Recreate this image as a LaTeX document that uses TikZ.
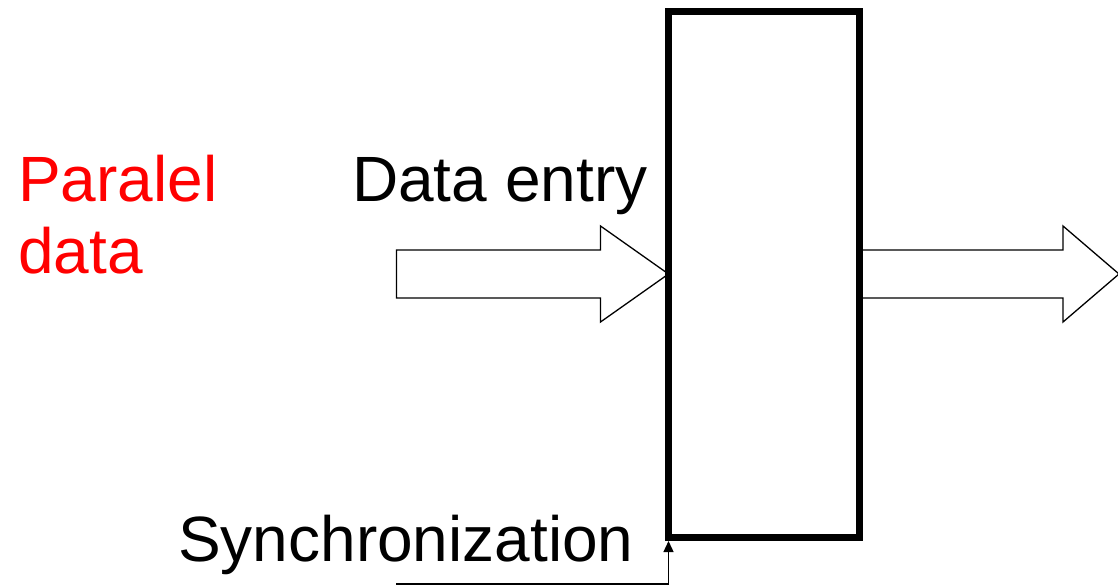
\documentclass[tikz,border=0pt]{standalone}
\usepackage{fontspec}
\setmainfont{Liberation Sans}
\usepackage{xcolor}
\usetikzlibrary{arrows.meta, positioning, calc}
\definecolor{labred}{RGB}{255,0,0}

\begin{document}
\begin{tikzpicture}[
  x=1pt, y=-1pt,
  reg/.style={draw,line width=7pt,inner sep=0pt,outer sep=0pt,
    minimum width=191pt,minimum height=526pt},
  lbl/.style={font=\fontsize{64}{72}\selectfont,inner sep=0pt,anchor=base west},
  fat/.style={draw,line width=1.3pt,line join=miter},
  arrow/.style={-{Triangle[length=11pt,width=10pt]},line width=1.3pt}
]
\useasboundingbox (0,0) rectangle (1118,586);
\node[reg] (reg) at (764,274.5) {};
\node[lbl,text=labred,align=left] (par) at (18,273) {Paralel\\data};
\node[lbl] (entry) at (352,201) {Data entry};
\node[lbl] (sync) at (178,561) {Synchronization};
% wide arrows in and out of the register
\coordinate (in) at (reg.west|-0,274);
\coordinate (out) at ([xshift=3.5pt]reg.east|-in);
\draw[fat] (in) -- ++(-68,-48) -- ++(0,24) -- ++(-204,0) -- ++(0,48)
  -- ++(204,0) -- ++(0,24) -- cycle;
\draw[fat] (out) ++(0,-24) -- ++(200,0) -- ++(0,-24) -- ++(56,48)
  -- ++(-56,48) -- ++(0,-24) -- ++(-200,0);
% clock line
\coordinate (clk) at (396,584);
\draw[arrow,shorten >=3.5pt] (clk) -| (reg.south west);
\end{tikzpicture}
\end{document}
